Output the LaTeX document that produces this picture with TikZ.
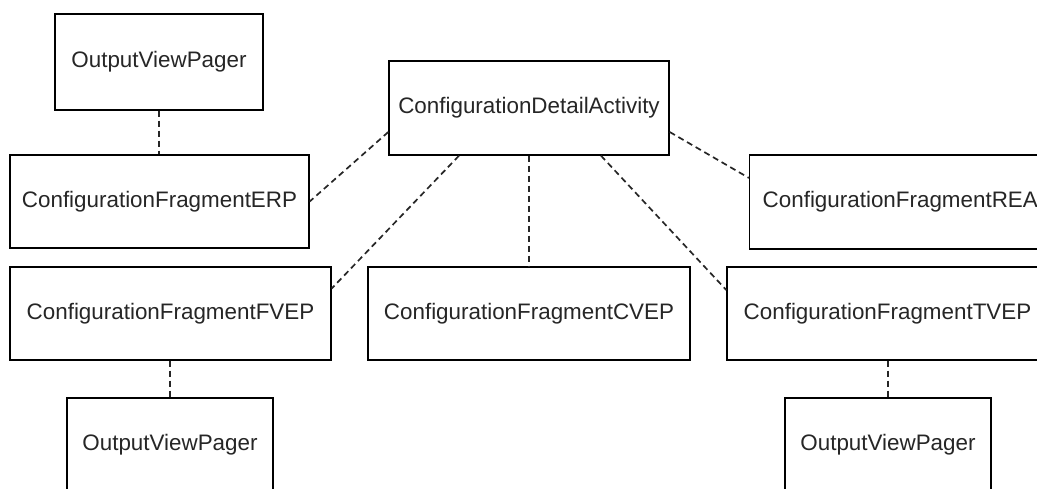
\documentclass[tikz,border=0pt]{standalone}
\usepackage{fontspec}
\setmainfont{Liberation Sans}
\usetikzlibrary{calc}
\begin{document}
\begin{tikzpicture}[x=1pt,y=-1pt,
  box/.style={draw=black,line width=1.4pt,fill=white,text=black!85,inner sep=0pt,
    font=\fontsize{22.4}{26}\selectfont},
  link/.style={draw=black!85,line width=1.7pt,dash pattern=on 6pt off 4pt}]
\useasboundingbox (0,0) rectangle (1037,489);
\clip (0,0) rectangle (1037,489);
\node[box,minimum width=208pt,minimum height=96pt] (ovp1) at (159,62) {OutputViewPager};
\node[box,minimum width=280pt,minimum height=94pt] (cda) at (529,108) {ConfigurationDetailActivity};
\node[box,minimum width=299pt,minimum height=93pt] (erp) at (159.5,201.5) {ConfigurationFragmentERP};
\node[box,anchor=west,minimum height=94pt,inner xsep=13pt,text width=300pt,align=left] (rea) at (749,202) {ConfigurationFragmentREA};
\node[box,minimum width=321pt,minimum height=93pt] (fvep) at (170.5,313.5) {ConfigurationFragmentFVEP};
\node[box,minimum width=322pt,minimum height=93pt] (cvep) at (529,313.5) {ConfigurationFragmentCVEP};
\node[box,minimum width=321pt,minimum height=93pt] (tvep) at (887.5,313.5) {ConfigurationFragmentTVEP};
\node[box,minimum width=206pt,minimum height=94pt] (ovp2) at (170,445) {OutputViewPager};
\node[box,minimum width=206pt,minimum height=94pt] (ovp3) at (888,445) {OutputViewPager};
\draw[link] (ovp1.south) -- (erp.north -| ovp1.south);
\draw[link] ($(cda.west)+(0,24)$) -- (erp.east);
\draw[link] ($(cda.south)+(-70,0)$) -- ($(fvep.east)+(0,-25)$);
\draw[link] (cda.south) -- (cvep.north);
\draw[link] ($(cda.south)+(72,0)$) -- ($(tvep.west)+(0,-23.5)$);
\draw[link] ($(cda.east)+(0,24)$) -- ($(rea.west)+(0,-24)$);
\draw[link] (fvep.south -| ovp2.north) -- (ovp2.north);
\draw[link] (tvep.south -| ovp3.north) -- (ovp3.north);
\end{tikzpicture}
\end{document}
